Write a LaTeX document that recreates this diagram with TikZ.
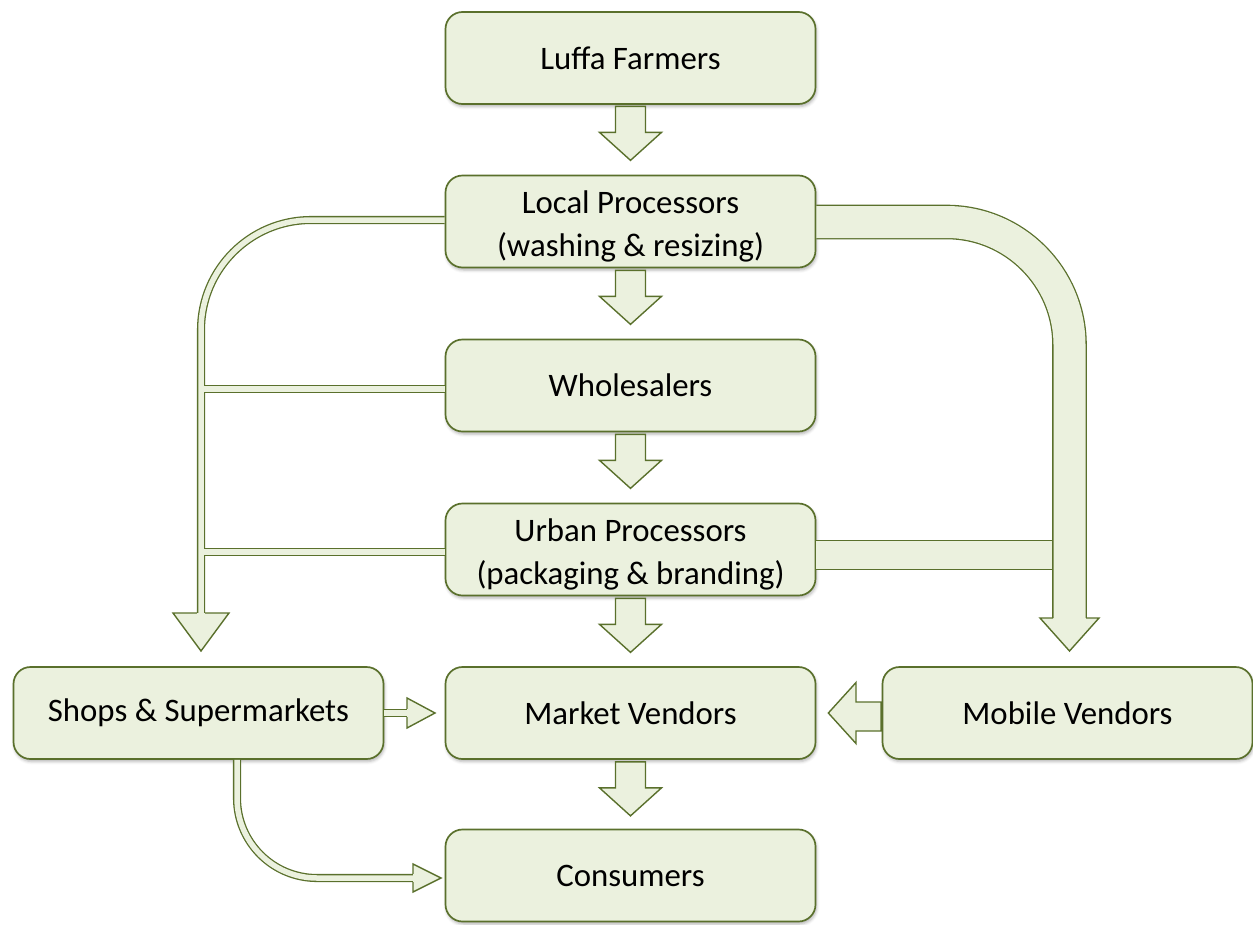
\documentclass[tikz,border=0pt]{standalone}
\usepackage{fontspec}
\setmainfont{Carlito}
\usetikzlibrary{shadows.blur,calc}
\definecolor{boxfill}{RGB}{235,241,222}
\definecolor{boxline}{RGB}{90,112,44}
\newcommand{\twolines}[2]{\raisebox{-5pt}[\height][\depth]{\parbox{370pt}{\centering #1\\#2}}}
\begin{document}
\begin{tikzpicture}[x=1pt,y=-1pt,
  box/.style={draw=boxline, fill=boxfill, line width=1.7pt, rounded corners=17pt,
    minimum width=370pt, minimum height=92pt, align=center, inner sep=0pt,
    font=\fontsize{32.8pt}{43pt}\selectfont,
    blur shadow={shadow xshift=1pt, shadow yshift=-2.5pt, shadow blur radius=3pt, shadow opacity=30}},
  arrowsty/.style={draw=boxline, fill=boxfill, line width=1.4pt, line join=miter},
  thinband/.style={draw=boxline, line width=1.3pt, double=boxfill, double distance=5.5pt},
  thickband/.style={draw=boxline, line width=1.3pt, double=boxfill},
  downblock/.pic={\path[arrowsty] (-15,0) -- (-15,26) -- (-31,26) -- (0,54) -- (31,26) -- (15,26) -- (15,0) -- cycle;}
]
\useasboundingbox (0,0) rectangle (1253,924);

% boxes
\node[box] (lf) at (630.5,58) {Luffa Farmers};
\node[box] (lp) at (630.5,221.5) {\twolines{Local Processors}{(washing \& resizing)}};
\node[box] (wh) at (630.5,385.5) {Wholesalers};
\node[box] (up) at (630.5,549.5) {\twolines{Urban Processors}{(packaging \& branding)}};
\node[box] (sh) at (198.5,713) {Shops \& Supermarkets};
\node[box] (mv) at (630.5,713) {Market Vendors};
\node[box] (mob) at (1067.5,713) {Mobile Vendors};
\node[box] (cn) at (630.5,875.5) {Consumers};

% vertical block arrows
\pic at ([yshift=-1.5pt]lf.south) {downblock};
\pic at ([yshift=-2pt]lp.south) {downblock};
\pic at ([yshift=-2pt]wh.south) {downblock};
\pic at ([yshift=-2pt]up.south) {downblock};
\pic at ([yshift=-2pt]mv.south) {downblock};

% left thin connector
\coordinate (lcorner) at (201,220);
\coordinate (lend) at (201,613);
\draw[thinband, rounded corners=110pt] ([yshift=1.5pt]lp.west) -- (lcorner) -- (lend);
\path[arrowsty] ($(lend)+(-4.2,0)$) -- ($(lend)+(-28,0)$) -- ($(lend)+(0,38)$) -- ($(lend)+(28,0)$) -- ($(lend)+(4.2,0)$);
\draw[thinband] ([yshift=-3.5pt]wh.west) -- (203.7,389);
\draw[thinband] ([yshift=-2.5pt]up.west) -- (203.7,552);

% right thick connector
\draw[thickband, double distance=28pt] ([yshift=-5.5pt]up.east) -- (1053,555);
\coordinate (rcorner) at (1069.5,222);
\coordinate (rend) at (1069.5,618);
\draw[thickband, double distance=32pt, rounded corners=123pt] ([yshift=-0.5pt]lp.east) -- (rcorner) -- (rend);
\path[arrowsty] ($(rend)+(-16.5,0)$) -- ($(rend)+(-29.5,0)$) -- ($(rend)+(0,33)$) -- ($(rend)+(29.5,0)$) -- ($(rend)+(16.5,0)$);

% shops -> market
\coordinate (smend) at (407,713);
\draw[thinband] (sh.east) -- (smend);
\path[arrowsty] ($(smend)+(0,-4.2)$) -- ($(smend)+(0,-15)$) -- ($(smend)+(28,0)$) -- ($(smend)+(0,15)$) -- ($(smend)+(0,4.2)$);

% shops -> consumers
\coordinate (sccorner) at (237,878);
\coordinate (scend) at (413,878);
\draw[thinband, rounded corners=80pt] ([xshift=38.5pt]sh.south) -- (sccorner) -- (scend);
\path[arrowsty] ($(scend)+(0,-4.2)$) -- ($(scend)+(0,-14)$) -- ($(scend)+(28,0)$) -- ($(scend)+(0,14)$) -- ($(scend)+(0,4.2)$);

% mobile -> market
\path[arrowsty] ([xshift=-0.5pt]mob.west |- 0,702) -- (856,702) -- (856,682.5) -- ([xshift=12pt]mv.east) -- (856,743.5) -- (856,731) -- ([xshift=-0.5pt]mob.west |- 0,731) -- cycle;
\end{tikzpicture}
\end{document}
